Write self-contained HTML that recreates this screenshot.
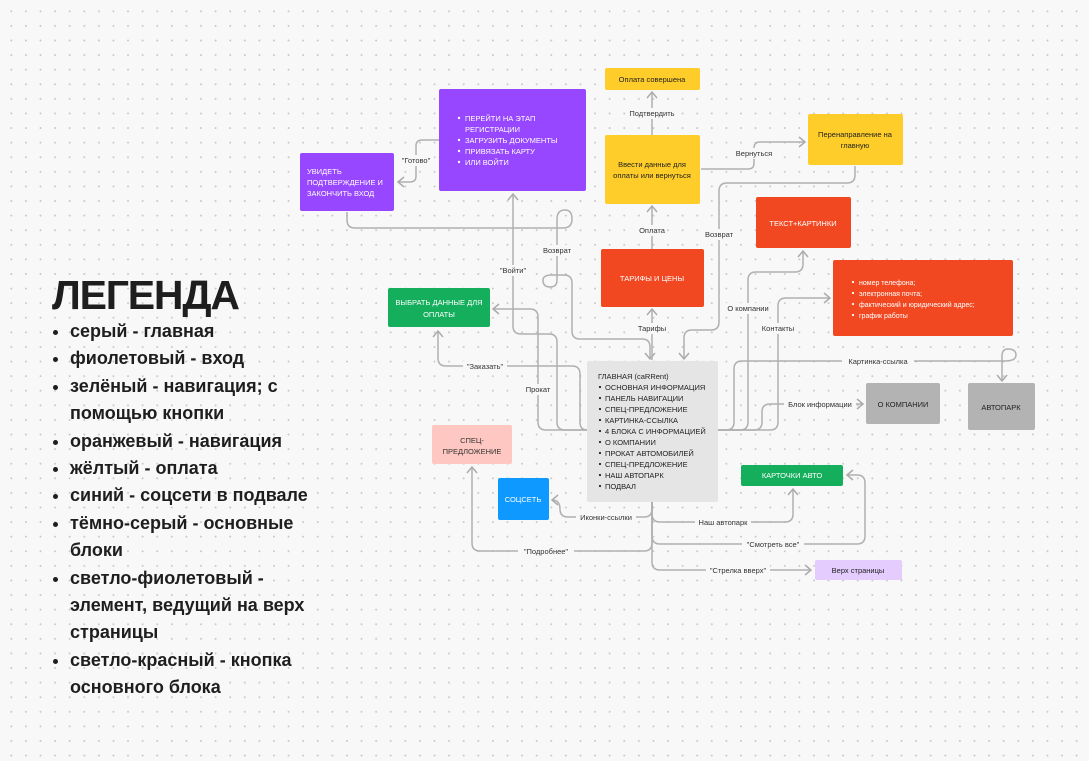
<!DOCTYPE html>
<html><head><meta charset="utf-8"><style>
html,body{margin:0;padding:0}
body{width:1089px;height:761px;overflow:hidden;background:#f8f8f8;background-image:radial-gradient(circle,#c9c9c9 0.8px,transparent 1.1px);background-size:14.6px 14.6px;background-position:4px 4px;font-family:"Liberation Sans","DejaVu Sans",sans-serif;position:relative}
svg{position:absolute;left:0;top:0}
.leg{position:absolute;left:52px;top:272px;color:#1e1e1e}
.leg h1{margin:0;font-size:41px;font-weight:bold;letter-spacing:-1.2px;line-height:46px}
.leg ul{margin:0;padding:0 0 0 18px;font-size:18px;font-weight:bold;line-height:27.4px;width:250px}
.leg li{padding-left:0}
</style></head><body>
<svg width="1089" height="761" viewBox="0 0 1089 761" font-family="Liberation Sans, DejaVu Sans, sans-serif">
<defs>
<marker id="a" markerWidth="12" markerHeight="12" refX="9" refY="6" orient="auto" markerUnits="userSpaceOnUse">
<polyline points="3,1 9,6 3,11" fill="none" stroke="#ababab" stroke-width="1.5"/>
</marker>
</defs>
<g fill="none" stroke="#b0b0b0" stroke-width="1.5">
<path d="M439,140 H422 Q416,140 416,146 V176 Q416,182 410,182 H398" marker-end="url(#a)"/>
<path d="M347,212 V220 Q347,228 355,228 H563 Q572,228 572,219 Q572,210 565,210 Q557,210 557,219 V280 Q557,287 550,287 Q543,287 543,280 Q543,275 552,275 H564 Q572,275 572,283 V331 Q572,339 580,339 H642 Q650,339 650,347 V359" marker-end="url(#a)"/>
<path d="M587,430 H565 Q557,430 557,422 V342 Q557,334 549,334 H521 Q513,334 513,326 V194" marker-end="url(#a)"/>
<path d="M587,430 H546 Q538,430 538,422 V317 Q538,309 530,309 H493" marker-end="url(#a)"/>
<path d="M587,430 Q580,430 580,422 V374 Q580,366 572,366 H446 Q438,366 438,358 V331" marker-end="url(#a)"/>
<path d="M652,360 V309" marker-end="url(#a)"/>
<path d="M652,249 V206" marker-end="url(#a)"/>
<path d="M652,135 V92" marker-end="url(#a)"/>
<path d="M701,169 H748 Q754,169 754,163 V148 Q754,142 760,142 H805" marker-end="url(#a)"/>
<path d="M855,166 V175 Q855,183 847,183 H727 Q719,183 719,191 V322 Q719,330 711,330 H692 Q684,330 684,338 V359" marker-end="url(#a)"/>
<path d="M718,430 H726 Q734,430 734,422 V369 Q734,361 742,361 H1005 Q1016,361 1016,355 Q1016,349 1008,349 Q1002,349 1002,356 V381" marker-end="url(#a)"/>
<path d="M718,430 H740 Q748,430 748,422 V280 Q748,272 756,272 H795 Q803,272 803,264 V251" marker-end="url(#a)"/>
<path d="M718,430 H754 Q762,430 762,422 V412 Q762,404 770,404 H863" marker-end="url(#a)"/>
<path d="M718,430 H770 Q778,430 778,422 V306 Q778,298 786,298 H830" marker-end="url(#a)"/>
<path d="M652,502 V509 Q652,517 644,517 H568 Q560,517 560,509 Q560,500 552,500" marker-end="url(#a)"/>
<path d="M652,502 V514 Q652,522 660,522 H785 Q793,522 793,514 V489" marker-end="url(#a)"/>
<path d="M652,502 V536 Q652,544 660,544 H857 Q865,544 865,536 V483 Q865,475 857,475 H847" marker-end="url(#a)"/>
<path d="M652,502 V543 Q652,551 644,551 H480 Q472,551 472,543 V467" marker-end="url(#a)"/>
<path d="M652,502 V562 Q652,570 660,570 H811" marker-end="url(#a)"/>
</g>
<g font-size="7.5" fill="#333" text-anchor="middle">
<g fill="#f8f8f8"><rect x="398" y="155" width="36" height="11"/><rect x="626" y="108" width="52" height="11"/><rect x="637" y="225" width="30" height="11"/><rect x="636" y="323" width="32" height="11"/><rect x="732" y="148" width="44" height="11"/><rect x="700" y="229" width="38" height="11"/><rect x="536" y="245" width="42" height="11"/><rect x="494" y="265" width="38" height="11"/><rect x="520" y="384" width="36" height="11"/><rect x="463" y="361" width="44" height="11"/><rect x="722" y="303" width="52" height="11"/><rect x="758" y="323" width="40" height="11"/><rect x="842" y="356" width="72" height="11"/><rect x="784" y="399" width="72" height="11"/><rect x="576" y="512" width="60" height="11"/><rect x="695" y="517" width="56" height="11"/><rect x="742" y="539" width="62" height="11"/><rect x="518" y="546" width="56" height="11"/><rect x="706" y="565" width="64" height="11"/></g>
<text x="416" y="163">"Готово"</text>
<text x="652" y="116">Подтвердить</text>
<text x="652" y="233">Оплата</text>
<text x="652" y="331">Тарифы</text>
<text x="754" y="156">Вернуться</text>
<text x="719" y="237">Возврат</text>
<text x="557" y="253">Возврат</text>
<text x="513" y="273">"Войти"</text>
<text x="538" y="392">Прокат</text>
<text x="485" y="369">"Заказать"</text>
<text x="748" y="311">О компании</text>
<text x="778" y="331">Контакты</text>
<text x="878" y="364">Картинка-ссылка</text>
<text x="820" y="407">Блок информации</text>
<text x="606" y="520">Иконки-ссылки</text>
<text x="723" y="525">Наш автопарк</text>
<text x="773" y="547">"Смотреть все"</text>
<text x="546" y="554">"Подробнее"</text>
<text x="738" y="573">"Стрелка вверх"</text>
</g>
<rect x="439" y="89" width="147" height="102" rx="2" fill="#9747ff"/>
<g font-size="7.5" fill="#fff"><circle cx="459" cy="118" r="1.2"/><circle cx="459" cy="140" r="1.2"/><circle cx="459" cy="151" r="1.2"/><circle cx="459" cy="162" r="1.2"/>
<text x="465" y="121">ПЕРЕЙТИ НА ЭТАП</text><text x="465" y="132">РЕГИСТРАЦИИ</text><text x="465" y="143">ЗАГРУЗИТЬ ДОКУМЕНТЫ</text><text x="465" y="154">ПРИВЯЗАТЬ КАРТУ</text><text x="465" y="165">ИЛИ ВОЙТИ</text></g>
<rect x="300" y="153" width="94" height="58" rx="2" fill="#9747ff"/>
<g font-size="7.5" fill="#fff"><text x="307" y="174">УВИДЕТЬ</text><text x="307" y="185">ПОДТВЕРЖДЕНИЕ И</text><text x="307" y="196">ЗАКОНЧИТЬ ВХОД</text></g>
<rect x="605" y="68" width="95" height="22" rx="2" fill="#ffcd29"/>
<text x="652" y="82" font-size="7.5" fill="#222" text-anchor="middle">Оплата совершена</text>
<rect x="605" y="135" width="95" height="69" rx="2" fill="#ffcd29"/>
<g font-size="7.5" fill="#222" text-anchor="middle"><text x="652" y="167">Ввести данные для</text><text x="652" y="178">оплаты или вернуться</text></g>
<rect x="808" y="114" width="95" height="51" rx="2" fill="#ffcd29"/>
<g font-size="7.5" fill="#222" text-anchor="middle"><text x="855" y="137">Перенаправление на</text><text x="855" y="148">главную</text></g>
<rect x="756" y="197" width="95" height="51" rx="2" fill="#f24822"/>
<text x="803" y="226" font-size="7.5" fill="#fff" text-anchor="middle">ТЕКСТ+КАРТИНКИ</text>
<rect x="833" y="260" width="180" height="76" rx="2" fill="#f24822"/>
<g font-size="7" fill="#fff"><circle cx="853" cy="282" r="1.1"/><circle cx="853" cy="293" r="1.1"/><circle cx="853" cy="304" r="1.1"/><circle cx="853" cy="315" r="1.1"/>
<text x="859" y="285">номер телефона;</text><text x="859" y="296">электронная почта;</text><text x="859" y="307">фактический и юридический адрес;</text><text x="859" y="318">график работы</text></g>
<rect x="601" y="249" width="103" height="58" rx="2" fill="#f24822"/>
<text x="652" y="281" font-size="7.5" fill="#fff" text-anchor="middle">ТАРИФЫ И ЦЕНЫ</text>
<rect x="388" y="288" width="102" height="39" rx="2" fill="#14ae5c"/>
<g font-size="7.5" fill="#fff" text-anchor="middle"><text x="439" y="305">ВЫБРАТЬ ДАННЫЕ ДЛЯ</text><text x="439" y="317">ОПЛАТЫ</text></g>
<rect x="587" y="361" width="131" height="141" rx="2" fill="#e5e5e5"/>
<g font-size="7.5" fill="#222"><text x="598" y="379">ГЛАВНАЯ (caRRent)</text>
<g><circle cx="600" cy="387" r="1.1"/><circle cx="600" cy="398" r="1.1"/><circle cx="600" cy="409" r="1.1"/><circle cx="600" cy="420" r="1.1"/><circle cx="600" cy="431" r="1.1"/><circle cx="600" cy="442" r="1.1"/><circle cx="600" cy="453" r="1.1"/><circle cx="600" cy="464" r="1.1"/><circle cx="600" cy="475" r="1.1"/><circle cx="600" cy="486" r="1.1"/></g>
<text x="605" y="390">ОСНОВНАЯ ИНФОРМАЦИЯ</text><text x="605" y="401">ПАНЕЛЬ НАВИГАЦИИ</text><text x="605" y="412">СПЕЦ-ПРЕДЛОЖЕНИЕ</text><text x="605" y="423">КАРТИНКА-ССЫЛКА</text><text x="605" y="434">4 БЛОКА С ИНФОРМАЦИЕЙ</text><text x="605" y="445">О КОМПАНИИ</text><text x="605" y="456">ПРОКАТ АВТОМОБИЛЕЙ</text><text x="605" y="467">СПЕЦ-ПРЕДЛОЖЕНИЕ</text><text x="605" y="478">НАШ АВТОПАРК</text><text x="605" y="489">ПОДВАЛ</text></g>
<rect x="866" y="383" width="74" height="41" rx="2" fill="#b3b3b3"/>
<text x="903" y="407" font-size="7.5" fill="#222" text-anchor="middle">О КОМПАНИИ</text>
<rect x="968" y="383" width="67" height="47" rx="2" fill="#b3b3b3"/>
<text x="1001" y="410" font-size="7.5" fill="#222" text-anchor="middle">АВТОПАРК</text>
<rect x="432" y="425" width="80" height="39" rx="2" fill="#ffc7c2"/>
<g font-size="7.5" fill="#333" text-anchor="middle"><text x="472" y="443">СПЕЦ-</text><text x="472" y="454">ПРЕДЛОЖЕНИЕ</text></g>
<rect x="498" y="478" width="51" height="42" rx="2" fill="#0d99ff"/>
<text x="523" y="502" font-size="7.5" fill="#fff" text-anchor="middle">СОЦСЕТЬ</text>
<rect x="741" y="465" width="102" height="21" rx="2" fill="#14ae5c"/>
<text x="792" y="478" font-size="7.5" fill="#fff" text-anchor="middle">КАРТОЧКИ АВТО</text>
<rect x="815" y="560" width="87" height="20" rx="2" fill="#e4ccff"/>
<text x="858" y="573" font-size="7.5" fill="#222" text-anchor="middle">Верх страницы</text>
</svg>
<div class="leg"><h1>ЛЕГЕНДА</h1>
<ul>
<li>серый - главная</li>
<li>фиолетовый - вход</li>
<li>зелёный - навигация; с помощью кнопки</li>
<li>оранжевый - навигация</li>
<li>жёлтый - оплата</li>
<li>синий - соцсети в подвале</li>
<li>тёмно-серый - основные блоки</li>
<li>светло-фиолетовый - элемент, ведущий на верх страницы</li>
<li>светло-красный - кнопка основного блока</li>
</ul></div>
</body></html>
